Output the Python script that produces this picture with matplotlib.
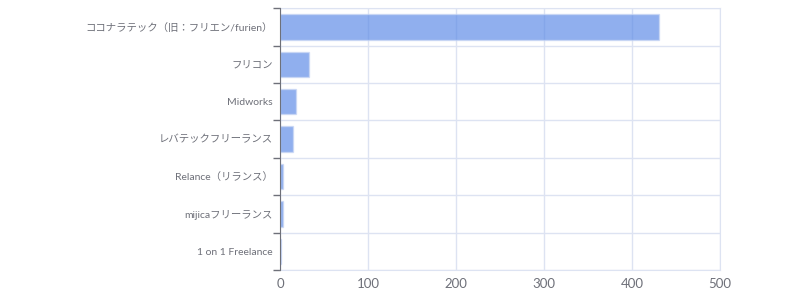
import matplotlib
matplotlib.use('Agg')
import matplotlib.pyplot as plt
import numpy as np

plt.rcParams['font.family'] = ['Lato', 'Noto Sans CJK JP', 'DejaVu Sans']

# top to bottom as shown
names = ['ココナラテック（旧：フリエン/furien）', 'フリコン', 'Midworks', 'レバテックフリーランス',
         'Relance（リランス）', 'mijicaフリーランス', '1 on 1 Freelance']
counts = [431, 33, 18, 15, 3, 3, 1]
xticks = [0, 100, 200, 300, 400, 500]

fig = plt.figure(figsize=(8, 3), dpi=100)
ax = fig.add_axes([0.35, 0.1, 0.55, 0.873])

y = np.arange(len(names))
ax.barh(y, counts, height=0.68, color='#5b8ae6', alpha=0.68,
        edgecolor='#c9d6f4', linewidth=1, zorder=3)
ax.set_ylim(len(names) - 0.5, -0.5)
ax.set_xlim(0, 500)

ax.set_yticks(y)
ax.set_yticklabels(names, fontsize=7.5, color='#6e7079')
ax.set_yticks(np.arange(len(names) + 1) - 0.5, minor=True)
ax.tick_params(axis='y', which='major', length=0, pad=5)
ax.tick_params(axis='y', which='minor', length=5, color='#6e7079', width=1)
ax.grid(True, axis='y', which='minor', color='#dde3f2', linewidth=1, zorder=0)

ax.set_xticks(xticks)
ax.tick_params(axis='x', length=0, labelsize=9.5, labelcolor='#6e7079', pad=6)
ax.grid(True, axis='x', which='major', color='#dde3f2', linewidth=1, zorder=0)

for s in ['top', 'right', 'bottom']:
    ax.spines[s].set_color('#dde3f2')
ax.spines['left'].set_color('#6e7079')
ax.spines['left'].set_zorder(4)

fig.savefig('out.png', dpi=100)
